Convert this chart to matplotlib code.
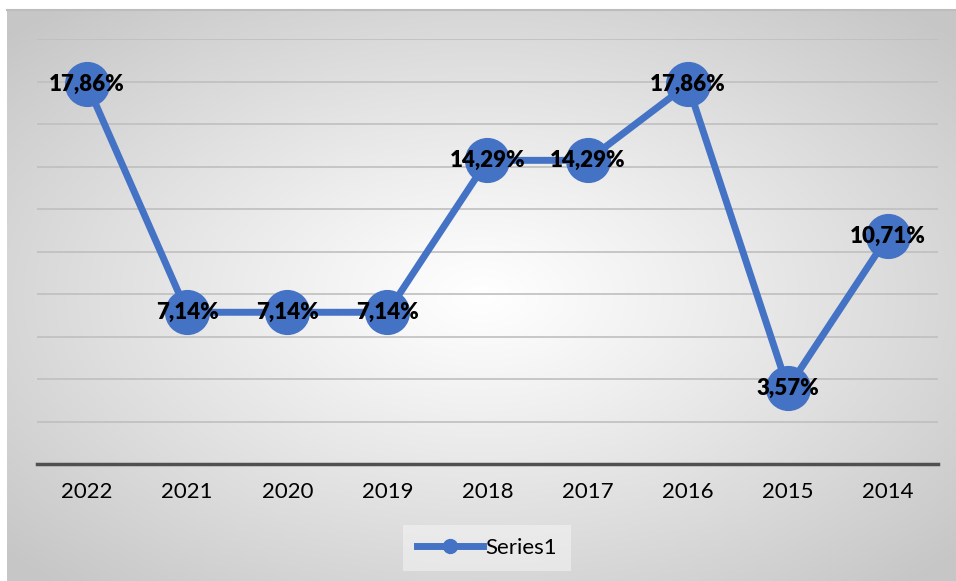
import numpy as np
import matplotlib
matplotlib.use('Agg')
import matplotlib.pyplot as plt
from matplotlib.lines import Line2D

# Datos
years = ['2022', '2021', '2020', '2019', '2018', '2017', '2016', '2015', '2014']
values = [17.86, 7.14, 7.14, 7.14, 14.29, 14.29, 17.86, 3.57, 10.71]
labels = ['17,86%', '7,14%', '7,14%', '7,14%', '14,29%', '14,29%', '17,86%', '3,57%', '10,71%']

blue = '#4472C4'

plt.rcParams['font.family'] = ['Lato', 'DejaVu Sans']

fig = plt.figure(figsize=(9.56, 5.81), dpi=100)
fig.patch.set_facecolor('white')

# Fondo con degradado radial
bg = fig.add_axes([7/956, 0, 1 - 7/956, 1 - 10/581])
bg.set_axis_off()
ny, nx = 300, 500
yy, xx = np.mgrid[-1:1:ny*1j, -1:1:nx*1j]
r = np.sqrt(xx**2 + yy**2) / np.sqrt(2)
r = np.clip(r / 0.95, 0, 1)
shade = 1.0 - (1.0 - 0.78) * r**1.1
img = np.dstack([shade, shade, shade])
bg.imshow(img, aspect='auto', extent=[0, 1, 0, 1], interpolation='bicubic')
bg.plot([0, 1], [1, 1], color='#bdbdbd', lw=1.5, transform=bg.transAxes, clip_on=False)

ax = fig.add_axes([37/956, 1 - 464/581, (938 - 37)/956, (464 - 39)/581])
ax.set_facecolor('none')

x = np.arange(len(years))
ax.plot(x, values, color=blue, lw=5, marker='o', markersize=31.5,
        markerfacecolor=blue, markeredgecolor=blue, zorder=3)

for xi, v, lab in zip(x, values, labels):
    ax.text(xi, v, lab, ha='center', va='center', fontsize=16,
            fontweight='heavy', color='black', zorder=4)

ax.set_xlim(-0.5, len(years) - 0.5)
ax.set_ylim(0, 20)
ax.set_yticks(np.arange(2, 21, 2))
ax.yaxis.grid(True, color='#bfbfbf', lw=1.2)
ax.set_axisbelow(True)
ax.tick_params(axis='y', left=False, labelleft=False)
ax.set_xticks(x)
ax.set_xticklabels(years, fontsize=16)
ax.tick_params(axis='x', length=0, pad=13)

for s in ['top', 'right', 'left']:
    ax.spines[s].set_visible(False)
ax.spines['bottom'].set_color('#505050')
ax.spines['bottom'].set_linewidth(2.5)

handle = Line2D([], [], color=blue, lw=5, marker='o', markersize=10,
                markerfacecolor=blue, markeredgecolor=blue)
leg = fig.legend([handle], ['Series1'], loc='center', bbox_to_anchor=(487/956, 1 - 548/581),
                 fontsize=16, frameon=True, fancybox=False, handlelength=3.0,
                 handletextpad=0.1, borderpad=0.6)
leg.get_frame().set_facecolor('#f7f7f7')
leg.get_frame().set_edgecolor('none')
leg.get_frame().set_alpha(0.5)

fig.savefig('out.png', dpi=100)
